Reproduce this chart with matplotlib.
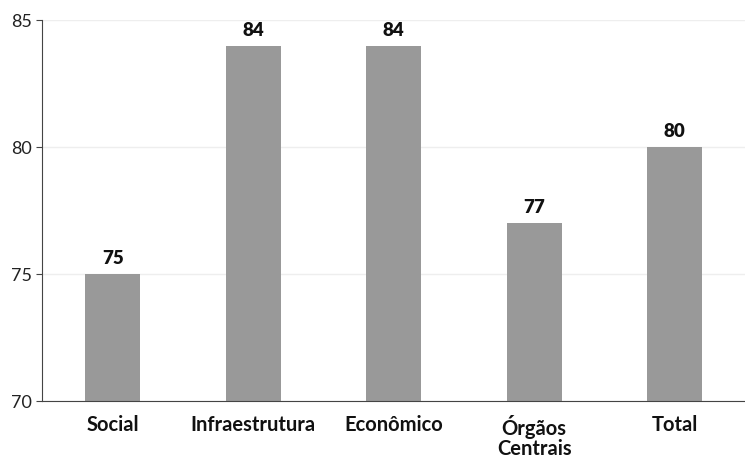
import matplotlib.pyplot as plt

categories = ["Social", "Infraestrutura", "Econômico", "Órgãos\nCentrais", "Total"]
values = [75, 84, 84, 77, 80]

plt.rcParams["font.family"] = ["Lato", "DejaVu Sans"]

fig = plt.figure(figsize=(7.45, 4.59), dpi=100)
ax = fig.add_axes([0.057, 0.126, 0.943, 0.830])

x = range(len(categories))
bars = ax.bar(x, values, width=0.39, color="#999999", zorder=2)

for bar, val in zip(bars, values):
    ax.annotate(f"{val}", (bar.get_x() + bar.get_width() / 2, bar.get_height()),
                textcoords="offset points", xytext=(0, 5), ha="center", va="bottom",
                fontsize=13.5, fontweight="heavy", color="#111111")

ax.set_xlim(-0.5, 4.5)
ax.set_ylim(70, 85)
ax.set_yticks([70, 75, 80, 85])
ax.set_xticks(list(x))
ax.set_xticklabels(categories, fontsize=14.5, fontweight="bold", color="#111111",
                   linespacing=1.0)
ax.tick_params(axis="y", labelsize=13, length=4, color="#444444", labelcolor="#222222")
ax.tick_params(axis="x", length=0, pad=10)
ax.yaxis.grid(True, color="#eeeeee", linewidth=1, zorder=0)

for side in ["top", "right"]:
    ax.spines[side].set_visible(False)
ax.spines["left"].set_color("#444444")
ax.spines["bottom"].set_color("#444444")

plt.savefig("out.png", dpi=100)
